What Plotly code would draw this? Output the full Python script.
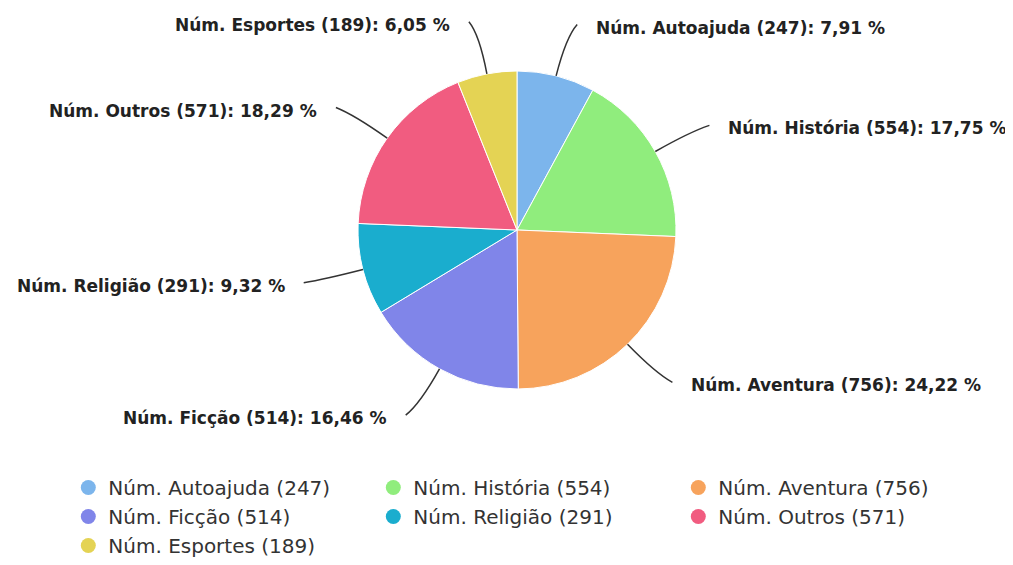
import math
import plotly.graph_objects as go

# The page body has an 8px margin, so the figure is drawn at (8, 8) on screen.
OFF = 8
SW, SH = 1013, 565          # screen size
W, H = SW - OFF, SH - OFF   # figure size

categories = ["Núm. Autoajuda", "Núm. História", "Núm. Aventura", "Núm. Ficção",
              "Núm. Religião", "Núm. Outros", "Núm. Esportes"]
values = [247, 554, 756, 514, 291, 571, 189]
colors = ["#7cb5ec", "#90ed7d", "#f7a35c", "#8085e9", "#1aadce", "#f15c80", "#e4d354"]

total = sum(values)
names = [f"{c} ({v})" for c, v in zip(categories, values)]
pcts = [f"{v / total * 100:.2f}".replace(".", ",") for v in values]

# pie geometry (screen pixels)
cx, cy, r = 517, 230, 159

fig = go.Figure()
fig.add_trace(go.Pie(
    labels=names, values=values, sort=False, direction="clockwise", rotation=0,
    marker=dict(colors=colors, line=dict(color="#ffffff", width=1)),
    textinfo="none", hoverinfo="label+value+percent", showlegend=False,
    domain=dict(x=[(cx - r - OFF) / W, (cx + r - OFF) / W],
                y=[1 - (cy + r - OFF) / H, 1 - (cy - r - OFF) / H]),
))

# legend entries with circle markers
for n, c in zip(names, colors):
    fig.add_trace(go.Scatter(x=[None], y=[None], mode="markers", name=n,
                             marker=dict(color=c, size=15, symbol="circle"),
                             xaxis="x", yaxis="y"))

# outside labels with soft connectors
shapes, annotations = [], []
cum = 0
for n, v, p in zip(names, values, pcts):
    mid = (cum + v / 2) / total * 2 * math.pi
    cum += v
    s, c = math.sin(mid), math.cos(mid)
    side = 1 if s >= 0 else -1
    ex, ey = cx + r * s, cy - r * c
    R2 = r + 40
    qx, qy = cx + R2 * s, cy - R2 * c
    R3 = r + 53
    lx, ly = cx + R3 * s + 8 * side, cy - R3 * c
    shapes.append(dict(type="path", xref="x", yref="y",
                       path=f"M {ex:.1f} {ey:.1f} Q {qx:.1f} {qy:.1f} {lx:.1f} {ly:.1f}",
                       line=dict(color="#333333", width=1.5)))
    annotations.append(dict(x=lx + 17 * side, y=ly + 3, xref="x", yref="y",
                            text=f"{n}: {p} %", showarrow=False,
                            xanchor="left" if side > 0 else "right", yanchor="middle",
                            font=dict(family="DejaVu Sans", size=17, color="#222222", weight="bold")))

fig.update_layout(
    width=W, height=H, margin=dict(l=0, r=0, t=0, b=0),
    paper_bgcolor="white", plot_bgcolor="white",
    xaxis=dict(range=[OFF, SW], visible=False, fixedrange=True),
    yaxis=dict(range=[SH, OFF], visible=False, fixedrange=True),
    shapes=shapes, annotations=annotations,
    legend=dict(orientation="h", x=0.06, y=0.0, xanchor="left", yanchor="bottom",
                entrywidth=260, entrywidthmode="pixels", tracegroupgap=0,
                font=dict(family="DejaVu Sans", size=20, color="#333333")),
)

fig.write_html("out.html")
